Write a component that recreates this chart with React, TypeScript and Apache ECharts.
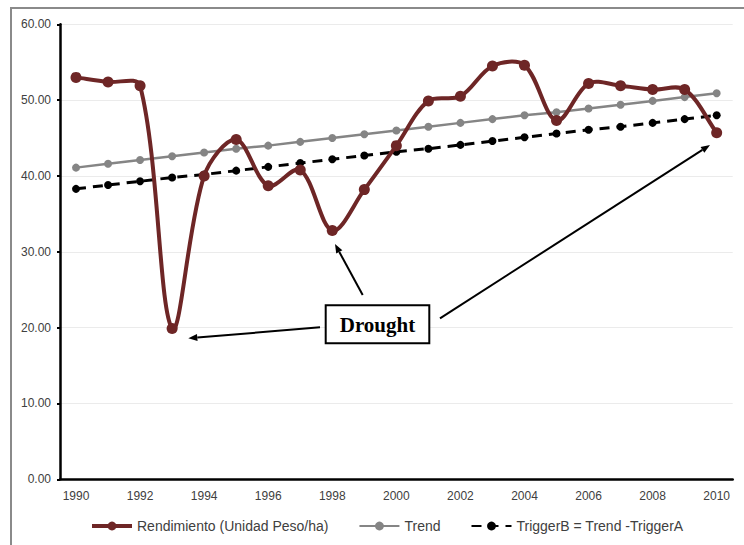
import React, { useEffect, useRef } from "react";
import * as echarts from "echarts";

const years = ["1990","1991","1992","1993","1994","1995","1996","1997","1998","1999","2000","2001","2002","2003","2004","2005","2006","2007","2008","2009","2010"];
const rendimiento = [53.0, 52.4, 51.9, 19.9, 40.0, 44.8, 38.7, 40.8, 32.8, 38.2, 44.0, 49.9, 50.5, 54.5, 54.6, 47.3, 52.2, 51.9, 51.4, 51.4, 45.7];
const trend = [41.1, 41.6, 42.1, 42.6, 43.1, 43.6, 44.0, 44.5, 45.0, 45.5, 46.0, 46.5, 47.0, 47.5, 48.0, 48.4, 48.9, 49.4, 49.9, 50.4, 50.9];
const triggerB = [38.3, 38.8, 39.3, 39.8, 40.2, 40.7, 41.2, 41.7, 42.2, 42.7, 43.2, 43.6, 44.1, 44.6, 45.1, 45.6, 46.1, 46.5, 47.0, 47.5, 48.0];
const seriesNames = ["Rendimiento (Unidad Peso/ha)", "Trend", "TriggerB = Trend -TriggerA"];
const annotationText = "Drought";

const BROWN = "#6E2626";
const FONT = "Liberation Sans";

function arrow(x1: number, y1: number, x2: number, y2: number) {
  const ang = Math.atan2(y2 - y1, x2 - x1);
  const L = 9, W = 3.5;
  const bx = x2 - L * Math.cos(ang), by = y2 - L * Math.sin(ang);
  const px = -Math.sin(ang) * W, py = Math.cos(ang) * W;
  return [
    { type: "line", shape: { x1, y1, x2: bx, y2: by }, style: { stroke: "#000", lineWidth: 2 }, z: 10 },
    { type: "polygon", shape: { points: [[x2, y2], [bx + px, by + py], [bx - px, by - py]] }, style: { fill: "#000" }, z: 10 },
  ];
}

export default function App() {
  const ref = useRef<HTMLDivElement>(null);
  useEffect(() => {
    const chart = echarts.init(ref.current!, null, { renderer: "svg" });
    const n = rendimiento.length;
    const S = 1 / 3;
    const dist = (a: number[], b: number[]) => Math.hypot(a[0] - b[0], a[1] - b[1]);
    chart.setOption({
      animation: false,
      backgroundColor: "#fff",
      grid: { left: 60, right: 11.3, top: 24.3, bottom: 65.7 },
      legend: {
        top: 519,
        left: 90,
        padding: 0,
        itemWidth: 40,
        itemHeight: 11,
        itemGap: 30,
        textStyle: { fontFamily: FONT, fontSize: 14, color: "#404040" },
        data: [
          { name: seriesNames[0], lineStyle: { color: BROWN, width: 4, opacity: 1 } },
          { name: seriesNames[1] },
          { name: seriesNames[2] },
        ],
      },
      xAxis: {
        type: "category",
        data: years,
        boundaryGap: true,
        axisLine: { lineStyle: { color: "#000", width: 2.5 } },
        axisTick: { interval: 0, length: 3, lineStyle: { color: "#000", width: 2 } },
        axisLabel: { interval: 1, margin: 11, fontFamily: FONT, fontSize: 12, color: "#404040" },
        splitLine: { show: false },
      },
      yAxis: {
        type: "value",
        min: 0,
        max: 60,
        interval: 10,
        axisLine: { show: true, lineStyle: { color: "#000", width: 2.5 } },
        axisTick: { show: true, length: 3, lineStyle: { color: "#000", width: 2 } },
        axisLabel: { formatter: (v: number) => v.toFixed(2), margin: 9, fontFamily: FONT, fontSize: 12, color: "#404040" },
        splitLine: { lineStyle: { color: "#ebebeb", width: 1 } },
      },
      series: [
        {
          type: "custom",
          name: "curve",
          data: rendimiento.map((v, i) => [i, v]),
          encode: { x: 0, y: 1 },
          z: 5,
          silent: true,
          renderItem: (params: any, api: any) => {
            const i = params.dataIndex;
            if (i >= n - 1) return null;
            const P = (k: number) => {
              const kk = Math.max(0, Math.min(n - 1, k));
              return api.coord([kk, rendimiento[kk]]);
            };
            const p0 = P(i - 1), p1 = P(i), p2 = P(i + 1), p3 = P(i + 2);
            const d01 = dist(p0, p1), d12 = dist(p1, p2), d23 = dist(p2, p3);
            const r1 = d01 + d12 > 0 ? d12 / (d01 + d12) : 0;
            const r2 = d12 + d23 > 0 ? d12 / (d12 + d23) : 0;
            return {
              type: "bezierCurve",
              shape: {
                x1: p1[0], y1: p1[1], x2: p2[0], y2: p2[1],
                cpx1: p1[0] + (p2[0] - p0[0]) * S * r1, cpy1: p1[1] + (p2[1] - p0[1]) * S * r1,
                cpx2: p2[0] - (p3[0] - p1[0]) * S * r2, cpy2: p2[1] - (p3[1] - p1[1]) * S * r2,
              },
              style: { stroke: BROWN, lineWidth: 4, fill: "none", lineCap: "round" },
            };
          },
        },
        {
          name: seriesNames[0],
          type: "line",
          data: rendimiento,
          symbol: "circle",
          symbolSize: 11,
          lineStyle: { color: BROWN, width: 4, opacity: 0 },
          itemStyle: { color: BROWN },
          z: 6,
        },
        {
          name: seriesNames[1],
          type: "line",
          data: trend,
          symbol: "circle",
          symbolSize: 8,
          lineStyle: { color: "#858585", width: 2.5 },
          itemStyle: { color: "#858585" },
          z: 3,
        },
        {
          name: seriesNames[2],
          type: "line",
          data: triggerB,
          symbol: "circle",
          symbolSize: 8,
          lineStyle: { color: "#000", width: 3, type: [10, 7] },
          itemStyle: { color: "#000" },
          z: 4,
        },
      ],
      graphic: [
        { type: "rect", shape: { x: 11, y: 8, width: 800, height: 700 }, style: { fill: "none", stroke: "#8a8a8a", lineWidth: 2 }, z: 1, silent: true },
        ...arrow(320, 327.3, 188.3, 338.3),
        ...arrow(362.7, 295, 335, 244),
        ...arrow(440, 318.3, 710, 145),
        { type: "rect", shape: { x: 325.7, y: 305.3, width: 103.6, height: 38 }, style: { fill: "#fff", stroke: "#000", lineWidth: 2 }, z: 11 },
        {
          type: "text",
          x: 377.5,
          y: 324.5,
          style: { text: annotationText, fontFamily: "Liberation Serif", fontWeight: "bold", fontSize: 21, fill: "#000", align: "center", verticalAlign: "middle" },
          z: 12,
        },
      ],
    });
    return () => chart.dispose();
  }, []);
  return <div ref={ref} style={{ position: "fixed", left: 0, top: 0, width: 744, height: 545 }} />;
}
